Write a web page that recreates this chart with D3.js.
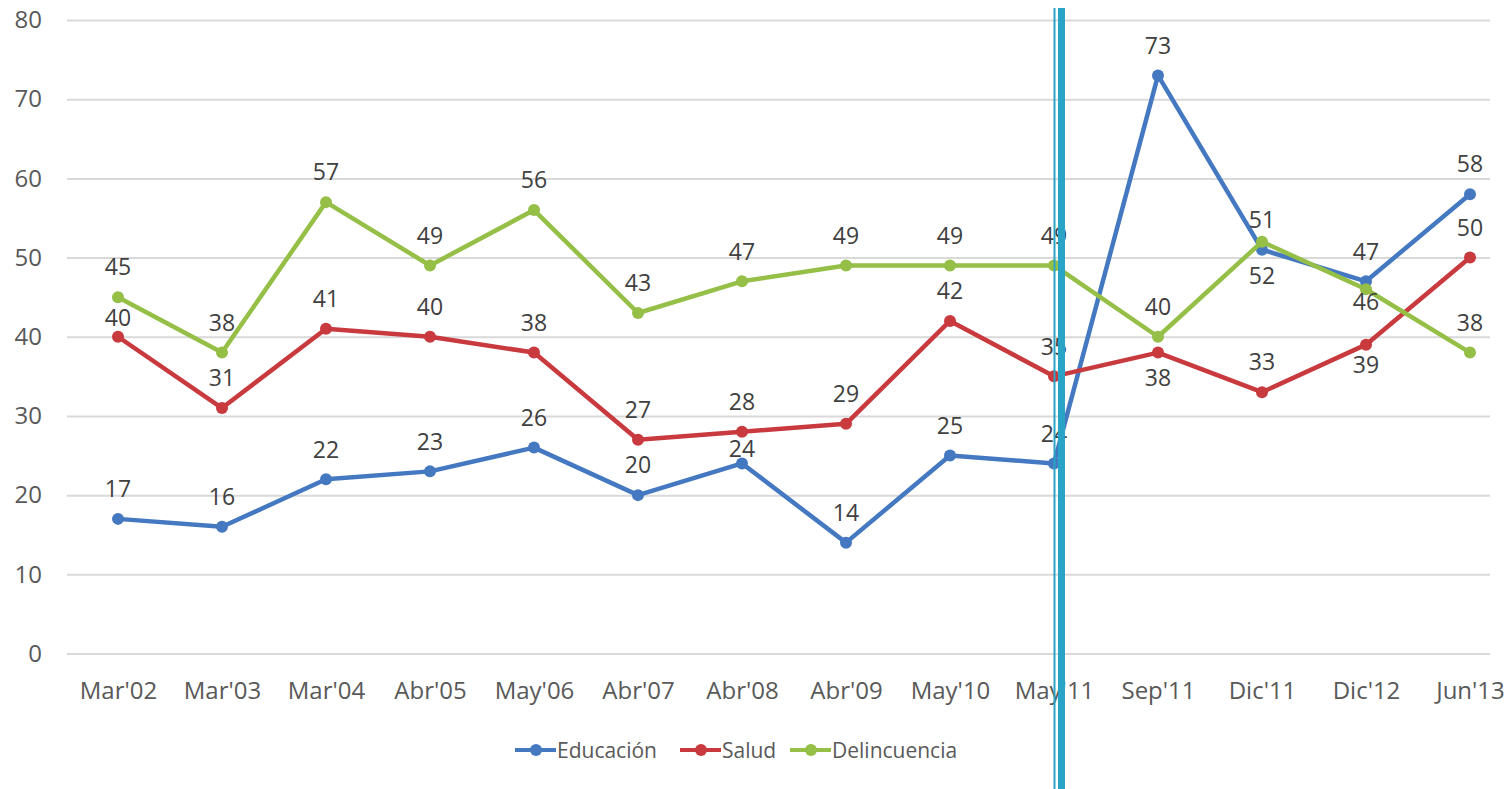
<!DOCTYPE html>
<html>
<head>
<meta charset="utf-8">
<script src="https://cdn.jsdelivr.net/npm/d3@7"></script>
<style>
  body { margin: 0; background: #fff; }
  svg text { font-family: "Open Sans", sans-serif; }
</style>
</head>
<body>
<div class="container"></div>
<script>
var categories = ["Mar'02", "Mar'03", "Mar'04", "Abr'05", "May'06", "Abr'07", "Abr'08",
                  "Abr'09", "May'10", "May'11", "Sep'11", "Dic'11", "Dic'12", "Jun'13"];
var educacion    = [17, 16, 22, 23, 26, 20, 24, 14, 25, 24, 73, 51, 47, 58];
var salud        = [40, 31, 41, 40, 38, 27, 28, 29, 42, 35, 38, 33, 39, 50];
var delincuencia = [45, 38, 57, 49, 56, 43, 47, 49, 49, 49, 40, 52, 46, 38];
var yTicks = [0, 10, 20, 30, 40, 50, 60, 70, 80];

var series = [
  { name: "Educación", values: educacion, color: "#4479c1" },
  { name: "Salud", values: salud, color: "#c83a3e" },
  { name: "Delincuencia", values: delincuencia, color: "#95bf47" }
];

// labels not at the default spot above their point (dy in px)
var labelShift = {
  "Educación|Abr'08": -15,
  "Salud|Mar'02": -19,
  "Salud|Sep'11": 25, "Salud|Dic'12": 20,
  "Delincuencia|Dic'11": 34, "Delincuencia|Dic'12": 12
};

var WIDTH = 1510, HEIGHT = 789;
var svg = d3.select('.container').append('svg')
    .attr('width', WIDTH)
    .attr('height', HEIGHT);

var xScale = d3.scalePoint()
    .domain(categories)
    .range([118, 1470]);

var yScale = d3.scaleLinear()
    .domain([0, 80])
    .range([653.5, 20]);

var gridLeft = 67, gridRight = 1490;

var yAxis = d3.axisLeft(yScale)
    .tickValues(yTicks)
    .tickSize(-(gridRight - gridLeft))
    .tickPadding(25);

var gy = svg.append('g')
    .attr('transform', 'translate(' + gridLeft + ',0)')
    .call(yAxis);
gy.select('.domain').remove();
gy.selectAll('line').attr('stroke', '#d9d9d9').attr('stroke-width', 2);
gy.selectAll('text').attr('font-size', 24).attr('fill', '#595959')
    .attr('font-family', '"Open Sans", sans-serif');

var xAxis = d3.axisBottom(xScale).tickSize(0).tickPadding(28);
var gx = svg.append('g')
    .attr('transform', 'translate(0,' + yScale(0) + ')')
    .call(xAxis);
gx.select('.domain').remove();
gx.selectAll('text').attr('font-size', 24).attr('fill', '#595959')
    .attr('font-family', '"Open Sans", sans-serif');

var line = d3.line()
    .x(function(d, i) { return xScale(categories[i]); })
    .y(function(d) { return yScale(d); });

series.forEach(function(s) {
  var g = svg.append('g');
  g.append('path')
    .datum(s.values)
    .attr('d', line)
    .attr('fill', 'none')
    .attr('stroke', s.color)
    .attr('stroke-width', 4.5)
    .attr('stroke-linejoin', 'round');
  g.selectAll('circle').data(s.values)
    .enter()
    .append('circle')
    .attr('cx', function(d, i) { return xScale(categories[i]); })
    .attr('cy', function(d) { return yScale(d); })
    .attr('r', 6)
    .attr('fill', s.color);
});

series.forEach(function(s) {
  svg.append('g').selectAll('text').data(s.values)
    .enter()
    .append('text')
    .attr('x', function(d, i) { return xScale(categories[i]); })
    .attr('y', function(d, i) {
      var k = s.name + '|' + categories[i];
      var dy = labelShift[k] !== undefined ? labelShift[k] : -30;
      return yScale(d) + dy;
    })
    .attr('dy', '0.36em')
    .attr('text-anchor', 'middle')
    .attr('font-size', 23)
    .attr('fill', '#404040')
    .text(function(d) { return d; });
});

// legend
var legendItems = [
  { s: series[0], x: 515 },
  { s: series[1], x: 680 },
  { s: series[2], x: 790 }
];
var legY = 750;
legendItems.forEach(function(it) {
  var g = svg.append('g').attr('transform', 'translate(' + it.x + ',' + legY + ')');
  g.append('line').attr('x1', 0).attr('x2', 41).attr('y1', 0).attr('y2', 0)
    .attr('stroke', it.s.color).attr('stroke-width', 4);
  g.append('circle').attr('cx', 21).attr('cy', 0).attr('r', 6).attr('fill', it.s.color);
  g.append('text').attr('x', 42).attr('y', 0).attr('dy', '0.36em')
    .attr('font-size', 21).attr('fill', '#595959')
    .text(it.s.name);
});

// double vertical marker line
svg.append('line').attr('x1', 1054.5).attr('x2', 1054.5).attr('y1', 8).attr('y2', HEIGHT)
  .attr('stroke', '#29a3c6').attr('stroke-width', 2);
svg.append('line').attr('x1', 1061.5).attr('x2', 1061.5).attr('y1', 8).attr('y2', HEIGHT)
  .attr('stroke', '#29a3c6').attr('stroke-width', 7);
</script>
</body>
</html>
